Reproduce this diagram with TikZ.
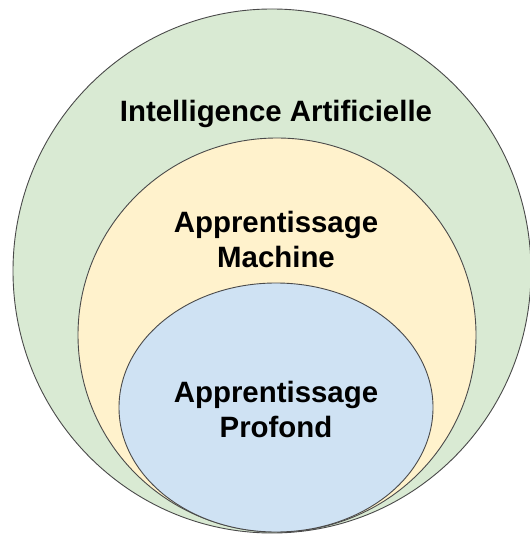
\documentclass[tikz,border=0pt]{standalone}
\usepackage{fontspec}
\setmainfont{Liberation Sans}
\usetikzlibrary{shapes.geometric}

\definecolor{aigreen}{HTML}{D9EAD3}
\definecolor{mlyellow}{HTML}{FFF2CC}
\definecolor{dlblue}{HTML}{CFE2F3}
\definecolor{edgegray}{HTML}{4A4A4A}

\begin{document}
\begin{tikzpicture}[
		x=1pt, y=-1pt,
		field/.style={draw=edgegray, line width=0.9pt, ellipse, inner sep=0pt},
		caption/.style={font=\bfseries\fontsize{29.4}{35}\selectfont, align=center, inner sep=0pt, anchor=base}
		]
		\useasboundingbox (0,0) rectangle (529,534);
		% Fields
		\node[field, fill=aigreen, minimum width=518pt, minimum height=524pt] (ai) at (272,271) {};
		\node[field, fill=mlyellow, minimum width=398pt, minimum height=394pt] (ml) at (277,335) {};
		\node[field, fill=dlblue, minimum width=314pt, minimum height=249pt] (dl) at (276,407.5) {};
		
		% Labels
		\node[caption] (ai_label) at (276,122) {Intelligence Artificielle};
		\node[caption] (ml_label) at (276,267) {Apprentissage\\Machine};
		\node[caption] (dl_label) at (276,437) {Apprentissage\\Profond};
	\end{tikzpicture}
\end{document}
